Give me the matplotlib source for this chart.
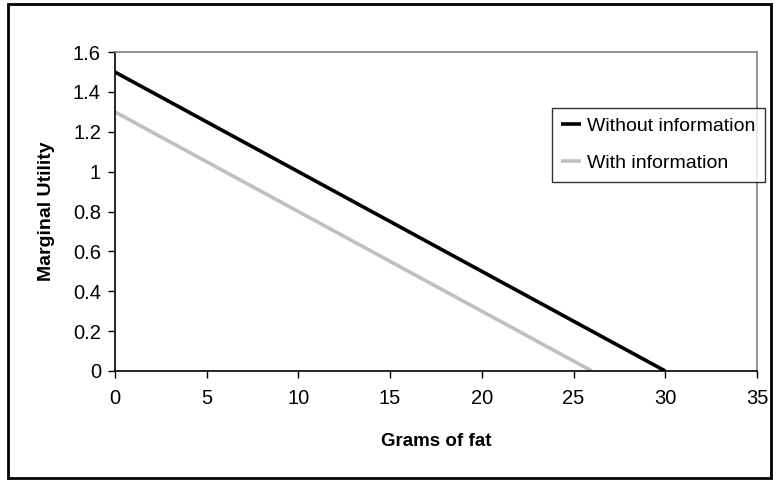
import matplotlib.pyplot as plt
from matplotlib.patches import Rectangle

grams = [0, 2.5, 5, 7.5, 10, 12.5, 15, 17.5, 20, 22.5, 25, 27.5, 30]
without_info = [1.5, 1.375, 1.25, 1.125, 1.0, 0.875, 0.75, 0.625, 0.5, 0.375, 0.25, 0.125, 0.0]
grams_info = [0, 2.5, 5, 7.5, 10, 12.5, 15, 17.5, 20, 22.5, 25, 26]
with_info = [1.3, 1.175, 1.05, 0.925, 0.8, 0.675, 0.55, 0.425, 0.3, 0.175, 0.05, 0.0]
xticks = [0, 5, 10, 15, 20, 25, 30, 35]
yticks = [0, 0.2, 0.4, 0.6, 0.8, 1.0, 1.2, 1.4, 1.6]
ytick_labels = ['0', '0.2', '0.4', '0.6', '0.8', '1', '1.2', '1.4', '1.6']

plt.rcParams['font.family'] = ['Liberation Sans', 'DejaVu Sans']

fig = plt.figure(figsize=(7.76, 4.82), dpi=100)
ax = fig.add_axes([0.148, 0.2303, 0.8275, 0.6617])

ax.plot(grams, without_info, color='black', lw=2.6, label='Without information', solid_capstyle='butt')
ax.plot(grams_info, with_info, color='#c0c0c0', lw=2.6, label='With information', solid_capstyle='butt')

ax.set_xlim(0, 35)
ax.set_ylim(0, 1.6)
ax.set_xticks(xticks)
ax.set_yticks(yticks)
ax.set_yticklabels(ytick_labels)
ax.tick_params(direction='out', length=5, width=1, labelsize=14.5, pad=5)
ax.tick_params(axis='x', pad=8)

for s in ['top', 'right']:
    ax.spines[s].set_color('#808080')
    ax.spines[s].set_linewidth(1.2)
for s in ['left', 'bottom']:
    ax.spines[s].set_color('black')
    ax.spines[s].set_linewidth(1.2)

ax.set_xlabel('Grams of fat', fontsize=13.5, fontweight='bold', labelpad=18)
ax.set_ylabel('Marginal Utility', fontsize=14, fontweight='bold', labelpad=13)

leg = ax.legend(loc='upper left', bbox_to_anchor=(0.68, 0.825), fontsize=14,
                frameon=True, fancybox=False, handlelength=1.0, handletextpad=0.3,
                borderpad=0.5, labelspacing=1.0, borderaxespad=0)
leg.get_frame().set_edgecolor('black')
leg.get_frame().set_linewidth(1.0)

# outer chart border
fig.patches.append(Rectangle((8 / 776, 4 / 482), 763 / 776, 474 / 482, transform=fig.transFigure,
                             fill=False, edgecolor='black', lw=2))

plt.savefig('out.png', dpi=100)
